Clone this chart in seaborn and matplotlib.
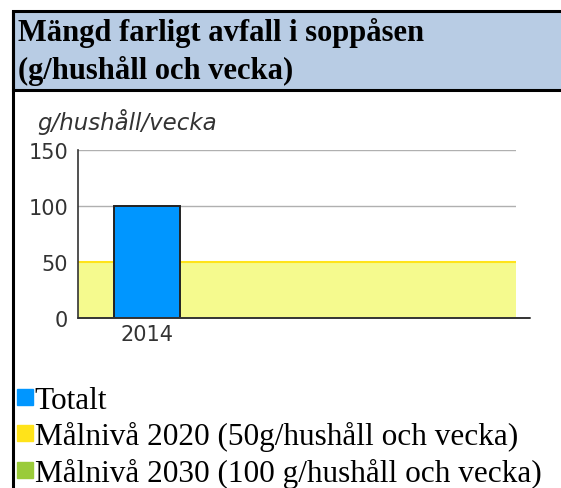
import matplotlib
matplotlib.use("Agg")
import matplotlib.pyplot as plt
import seaborn as sns
from matplotlib.patches import Rectangle
from matplotlib.lines import Line2D

# data
years = ["2014"]
totals = [100]
target_2020 = 50
target_2030 = 100
yticks = [0, 50, 100, 150]

title = "Mängd farligt avfall i soppåsen\n(g/hushåll och vecka)"
ylabel = "g/hushåll/vecka"
legend_labels = ["Totalt",
                 "Målnivå 2020 (50g/hushåll och vecka)",
                 "Målnivå 2030 (100 g/hushåll och vecka)"]
legend_colors = ["#0096ff", "#ffe31a", "#9acb3a"]

sns.set_style("white")
plt.rcParams["font.family"] = ["DejaVu Sans"]

W, H = 561, 489
fig = plt.figure(figsize=(W / 100, H / 100), dpi=100)

# header box and page border
fig.patches.append(Rectangle((13 / W, 1 - 91 / H), 1, (91 - 12) / H,
                             transform=fig.transFigure, facecolor="#b8cce4",
                             edgecolor="black", linewidth=2.2))
fig.add_artist(Line2D([13 / W, 13 / W], [0, 1 - 12 / H], transform=fig.transFigure,
                      color="black", linewidth=2.2))
fig.text(18 / W, 1 - 52 / H, title, fontsize=22, fontweight="bold",
         family="Liberation Serif", color="black", va="center", ha="left",
         linespacing=1.32)

ax = fig.add_axes([78 / W, 1 - 319 / H, (516 - 78) / W, (319 - 151) / H])
ax.axhspan(0, target_2020, color="#f5fa8e", zorder=0, lw=0)
ax.axhline(target_2020, color="#ffe31a", lw=1.5, zorder=1)
for y in [100, 150]:
    ax.axhline(y, color="#b0b0b0", lw=1, zorder=1)

sns.barplot(x=years, y=totals, color=legend_colors[0], edgecolor="#222222",
            linewidth=1.4, width=0.8, saturation=1, ax=ax, zorder=3)

ax.set_xlim(-0.836, 4.47)
ax.set_ylim(0, 150)
ax.set_yticks(yticks)
ax.set_yticklabels([str(t) for t in yticks], fontsize=15, color="#333333")
ax.tick_params(axis="y", length=5, width=1, color="#333333", direction="out", pad=2)
ax.tick_params(axis="x", length=0, labelsize=15, labelcolor="#333333", pad=4)
ax.set_xlabel("")
ax.set_ylabel("")
for s in ["top", "right", "bottom"]:
    ax.spines[s].set_visible(False)
ax.spines["left"].set_color("#333333")
ax.spines["left"].set_linewidth(1.2)
ax.plot([0, 1.032], [0, 0], transform=ax.transAxes, color="#333333", lw=1.4,
        clip_on=False, zorder=4)

fig.text(37 / W, 1 - 122 / H, ylabel, fontsize=16.5, style="italic",
         color="#333333", va="center", ha="left")

handles = [Line2D([], [], marker="s", linestyle="none", markersize=11,
                  markerfacecolor=c, markeredgecolor=c) for c in legend_colors]
leg = fig.legend(handles, legend_labels, loc="upper left",
                 bbox_to_anchor=(16 / W, 1 - 387 / H), frameon=False,
                 prop={"family": "Liberation Serif", "size": 22.5},
                 handlelength=0.55, handletextpad=0.05, borderpad=0,
                 borderaxespad=0, labelspacing=0.2)
for t in leg.get_texts():
    t.set_color("black")

fig.savefig("out.png", dpi=100)
